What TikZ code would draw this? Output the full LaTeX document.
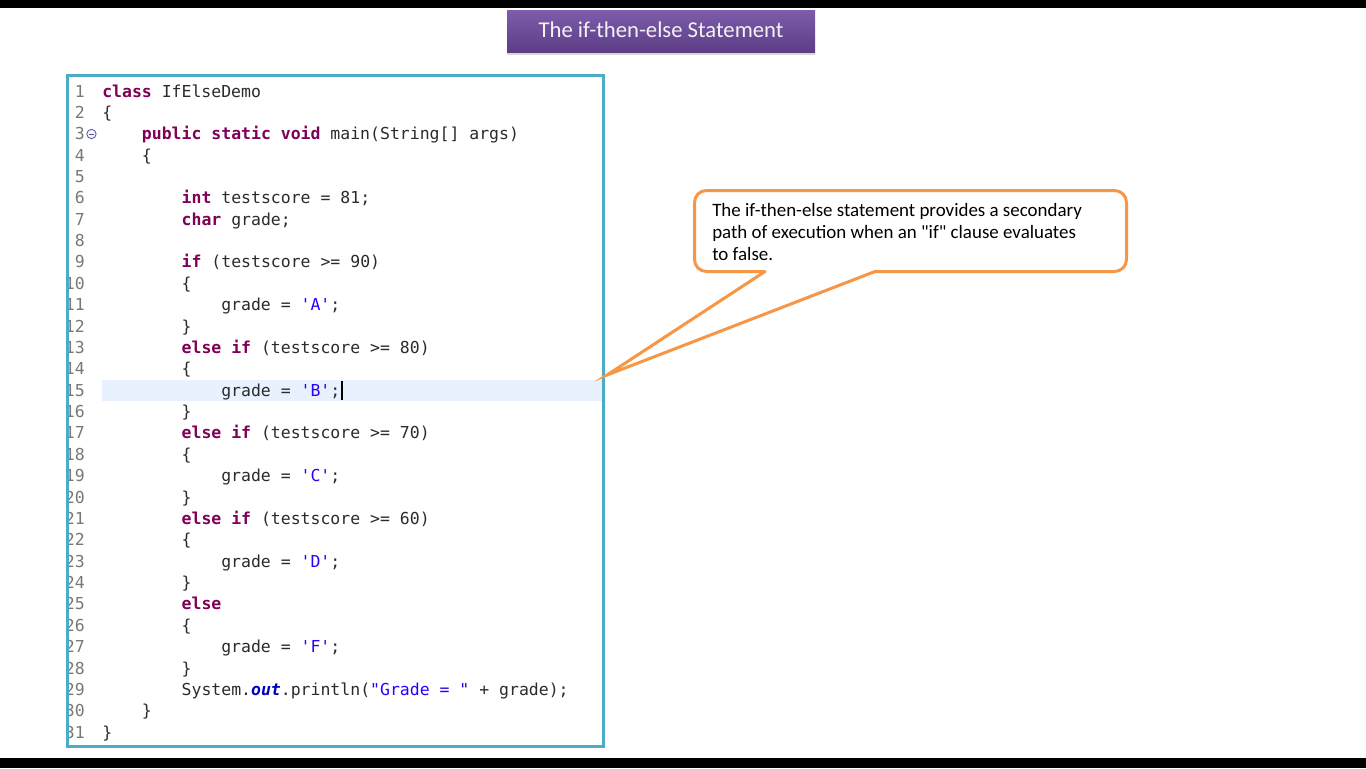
\documentclass[tikz,border=0pt]{standalone}
\usepackage{fontspec}
\setmainfont{Carlito}[Ligatures=TeXOff]
\newfontfamily\codefont{DejaVu Sans Mono}[Ligatures=TeXOff]
\usetikzlibrary{shadows}
\definecolor{kwc}{HTML}{7F0055}
\definecolor{strc}{HTML}{2A00FF}
\definecolor{fldc}{HTML}{0000C0}
\definecolor{txtc}{HTML}{2B2B2B}
\definecolor{lnc}{HTML}{787878}
\definecolor{hlc}{HTML}{E8F2FE}
\definecolor{teal}{HTML}{4BACC6}
\definecolor{orangec}{HTML}{F79646}
\definecolor{purtop}{HTML}{7D5CAB}
\definecolor{purbot}{HTML}{5C3D85}
\newcommand\kw[1]{\textcolor{kwc}{\bfseries #1}}
\newcommand\str[1]{\textcolor{strc}{#1}}
\newcommand\fld[1]{\textcolor{fldc}{\bfseries\itshape #1}}
\tikzset{
  codeline/.style={anchor=base west, inner sep=0pt, font=\codefont\fontsize{12.36pt}{14pt}\selectfont, text=txtc},
  lnum/.style={anchor=base east, inner sep=0pt, font=\codefont\fontsize{12.36pt}{14pt}\selectfont, text=lnc},
  codebox/.style={draw=teal, line width=2.625pt, minimum width=402pt, minimum height=503.25pt, inner sep=0pt},
  titlebox/.style={minimum width=231pt, minimum height=31.5pt, inner sep=0pt, top color=purtop, bottom color=purbot,
     drop shadow={opacity=0.3, shadow xshift=0pt, shadow yshift=-2.5pt}},
  titletext/.style={anchor=base, inner sep=0pt, text=white!95!black, font=\fontsize{17pt}{20pt}\selectfont},
  notebox/.style={draw=orangec, line width=2.25pt, rounded corners=9pt, fill=white, minimum width=324pt, minimum height=60.75pt, inner sep=0pt},
  notetext/.style={anchor=base west, inner sep=0pt, text=black, font=\fontsize{14.2pt}{16.5pt}\selectfont},
  pointer/.style={draw=orangec, line width=2.25pt, line join=miter, line cap=round}
}
\begin{document}
\begin{tikzpicture}[x=0.75pt,y=-0.75pt]
\useasboundingbox (0,0) rectangle (1366,768);
\fill[white] (0,0) rectangle (1366,768);
\fill[black] (0,0) rectangle (1366,8);
\fill[black] (0,758) rectangle (1366,768);

% title
\node[titlebox] (title) at (661,31) {};
\node[titletext] (titlet) at (661,37) {The if-then-else Statement};

% highlight of current line
\fill[hlc] (102,379.5) rectangle (602,400.5);

% line numbers (clipped by the box)
\begin{scope}
\clip (69,77) rectangle (100,745);
\foreach \n in {1,...,31} {
  \node[lnum] (n\n) at (85,{97+21.37*(\n-1)}) {\n};
}
\end{scope}
% fold icon
\node[circle, draw=lnc!70!blue, fill=blue!4, line width=0.6pt, minimum size=7pt, inner sep=0pt] (fold) at (91.5,134) {};
\draw[lnc!70!blue, line width=0.7pt] ([xshift=-2pt]fold.center) -- ([xshift=2pt]fold.center);

% code
\node[codeline] (c1)  at (102,97)      {\kw{class} IfElseDemo};
\node[codeline] (c2)  at (102,118.37)  {\{};
\node[codeline] (c3)  at (141.7,139.74) {\kw{public} \kw{static} \kw{void} main(String[] args)};
\node[codeline] (c4)  at (141.7,161.11) {\{};
\node[codeline] (c6)  at (181.4,203.85) {\kw{int} testscore = 81;};
\node[codeline] (c7)  at (181.4,225.22) {\kw{char} grade;};
\node[codeline] (c9)  at (181.4,267.96) {\kw{if} (testscore >= 90)};
\node[codeline] (c10) at (181.4,289.33) {\{};
\node[codeline] (c11) at (221.0,310.7)  {grade = \str{'A'};};
\node[codeline] (c12) at (181.4,332.07) {\}};
\node[codeline] (c13) at (181.4,353.44) {\kw{else} \kw{if} (testscore >= 80)};
\node[codeline] (c14) at (181.4,374.81) {\{};
\node[codeline] (c15) at (221.0,396.18) {grade = \str{'B'};};
\node[codeline] (c16) at (181.4,417.55) {\}};
\node[codeline] (c17) at (181.4,438.92) {\kw{else} \kw{if} (testscore >= 70)};
\node[codeline] (c18) at (181.4,460.29) {\{};
\node[codeline] (c19) at (221.0,481.66) {grade = \str{'C'};};
\node[codeline] (c20) at (181.4,503.03) {\}};
\node[codeline] (c21) at (181.4,524.4)  {\kw{else} \kw{if} (testscore >= 60)};
\node[codeline] (c22) at (181.4,545.77) {\{};
\node[codeline] (c23) at (221.0,567.14) {grade = \str{'D'};};
\node[codeline] (c24) at (181.4,588.51) {\}};
\node[codeline] (c25) at (181.4,609.88) {\kw{else}};
\node[codeline] (c26) at (181.4,631.25) {\{};
\node[codeline] (c27) at (221.0,652.62) {grade = \str{'F'};};
\node[codeline] (c28) at (181.4,673.99) {\}};
\node[codeline] (c29) at (181.4,695.36) {System.\fld{out}.println(\str{"Grade = "} + grade);};
\node[codeline] (c30) at (141.7,716.73) {\}};
\node[codeline] (c31) at (102,738.1)    {\}};
% text cursor
\draw[black, line width=1.4pt] (342,380.5) -- (342,399.5);

% code frame
\node[codebox] (code) at (335.5,411) {};

% callout
\node[notebox] (note) at (910.5,231) {};
\coordinate (lb) at (765,271.5);
\coordinate (rb) at (875,271.5);
\coordinate (tip) at (607,375);
\fill[white] (766,269) -- (874,269) -- (rb) -- (tip) -- (lb) -- cycle;
\draw[pointer] (lb) -- (tip) -- (rb);
\node[notetext] (t1) at (712,216) {The if-then-else statement provides a secondary};
\node[notetext] (t2) at (712,238) {path of execution when an "if" clause evaluates};
\node[notetext] (t3) at (712,260) {to false.};
\end{tikzpicture}
\end{document}
